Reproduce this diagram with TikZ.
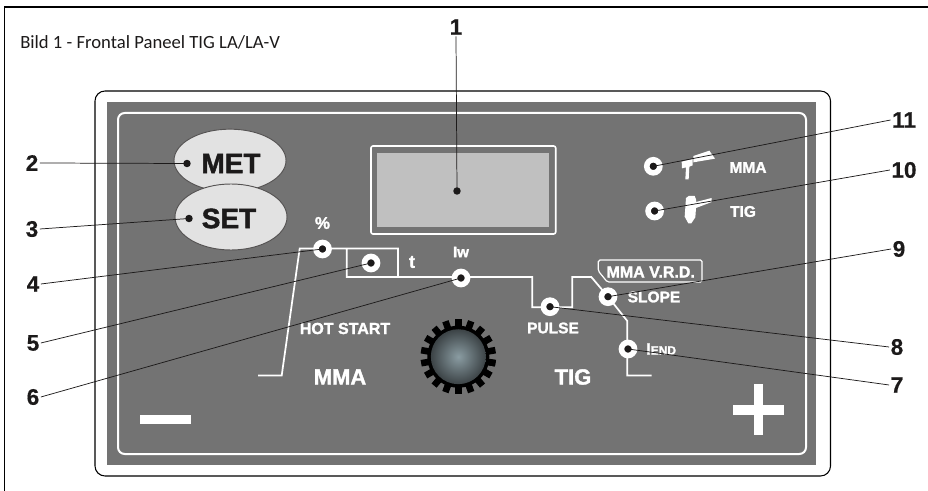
\documentclass[tikz,border=0pt]{standalone}
\usepackage{fontspec}
\setmainfont{Liberation Sans}
\newfontfamily\hv[UprightFont=* Bold,FakeBold=1.6]{Liberation Sans}
\newfontfamily\nm[UprightFont=* Bold,FakeBold=0.5]{Liberation Sans}
\newfontfamily\cb{Carlito}
\definecolor{panel}{HTML}{737373}
\definecolor{ink}{HTML}{1C1A1A}
\definecolor{lcd}{HTML}{C0C0C0}
\definecolor{btn}{HTML}{E2E2E2}
\definecolor{knobin}{HTML}{8A9CA2}
\definecolor{knobout}{HTML}{3C4346}
\newcommand{\hs}[1]{\hv\fontsize{\dimexpr#1pt*3/4\relax}{\dimexpr#1pt\relax}\selectfont}
\newcommand{\ns}[1]{\nm\fontsize{\dimexpr#1pt*3/4\relax}{\dimexpr#1pt\relax}\selectfont}
\tikzset{
  num/.style={font=\ns{22.5},text=ink,inner sep=1pt},
  wtxt/.style={text=white,inner sep=0pt},
  led/.style={circle,fill=ink,draw=white,line width=4.2pt,minimum size=9.8pt,inner sep=0pt,outer sep=0pt},
  spot/.style={circle,fill=ink,minimum size=5.6pt,inner sep=0pt,outer sep=0pt},
  leader/.style={draw=ink,line width=0.55pt},
  wline/.style={draw=white,line width=1.3pt,line join=miter},
  btnel/.style={ellipse,draw=ink!75,fill=btn,line width=0.7pt,inner sep=0pt}
}
\usetikzlibrary{shapes.geometric}
\begin{document}
\begin{tikzpicture}[x=0.75pt,y=-0.75pt]
\useasboundingbox (0,0) rectangle (928,491);
% frame
\draw[black,line width=1.2pt] (4.5,491) -- (4.5,7) -- (928,7);
\draw[black,line width=0.8pt,rounded corners=7.5pt] (95,91) rectangle (830.5,476);
\fill[panel] (107,102) rectangle (815.7,465);
\draw[white,line width=1.5pt,rounded corners=5pt] (118,113) rectangle (806,454);
% title
\node[anchor=west,inner sep=0pt,font=\cb\fontsize{14pt}{17pt}\selectfont,text=ink] (title) at (20,42) {Bild 1 - Frontal Paneel TIG LA/LA-V};
% display
\draw[white,line width=1.2pt,fill=panel,rounded corners=1.5pt] (371,146) rectangle (555.7,234);
\node[fill=lcd,inner sep=0pt,minimum width=128.6pt,minimum height=55.9pt] (lcdscreen) at (462.8,190.2) {};
% buttons
\node[btnel,minimum width=84pt,minimum height=47pt] (met) at (230,160.5) {};
\node[anchor=center,font=\hs{28},text=ink,inner sep=0pt] (mettxt) at (231,163.5) {MET};
\node[btnel,minimum width=84pt,minimum height=49.5pt] (set) at (231,217) {};
\node[anchor=center,font=\hs{28},text=ink,inner sep=0pt] (settxt) at (229,218.5) {SET};
% white circuit
\coordinate (p0) at (258,375.5);
\draw[wline] (p0) -- (281.7,375.5) -- (299.7,248.5) -- (346.7,248.5) -- (398,248.5) -- (398,277) -- (346.7,277) -- (346.7,248.5);
\draw[wline] (398,277) -- (532.3,277) -- (532.3,307.2) -- (572.3,307.2) -- (572.3,277) -- (591.3,277) -- (608,296.7) -- (627.3,321) -- (627.3,375.5) -- (651.7,375.5);
\draw[white,line width=0.9pt,rounded corners=1.2pt,fill=panel] (598.3,260) -- (702,260) -- (702,282) -- (607.3,282) -- (598.3,271) -- cycle;
% LEDs
\node[led] (l4) at (322.5,249) {};
\node[led] (l5) at (371,263) {};
\node[led] (l6) at (461,278) {};
\node[led] (l8) at (550,306.7) {};
\node[led] (l9) at (608,296.7) {};
\node[led] (l7) at (628,349) {};
\node[led] (l11) at (653.3,166.3) {};
\node[led] (l10) at (654.6,211) {};
% panel text
\node[wtxt,font=\hs{17}] (tpct) at (322.5,223) {\%};
\node[wtxt,font=\hs{18}] (tt) at (412,262) {t};
\node[wtxt,font=\hs{15}] (tiw) at (461,252) {Iw};
\node[wtxt,font=\hs{16}] (thot) at (345,328.5) {HOT START};
\node[wtxt,font=\hs{22}] (tmma) at (340,377) {MMA};
\node[wtxt,font=\hs{22}] (ttig) at (573,377) {TIG};
\node[wtxt,font=\hs{15.5}] (tpulse) at (553,328) {PULSE};
\node[wtxt,font=\hs{15.5}] (tslope) at (654,297) {SLOPE};
\node[wtxt,font=\hs{16}] (tvrd) at (650.7,272) {MMA V.R.D.};
\node[wtxt,anchor=west] (tend) at (646,349) {{\hs{16}I}{\hs{12}END}};
\node[wtxt,font=\hs{15.5}] (tm2) at (748,167.5) {MMA};
\node[wtxt,font=\hs{15.5}] (tt2) at (743,211.5) {TIG};
% minus plus
\fill[white] (139.7,415) rectangle (190.7,424.3);
\fill[white] (733.3,405) rectangle (784.3,415);
\fill[white] (754,384.3) rectangle (763.3,435.3);
% torches
\begin{scope}[shift={(620,110)},x=0.25pt,y=-0.25pt]
\fill[white] (220,138) -- (268,122) -- (285,146) -- (220,157) -- cycle;
\fill[white] (185,155) -- (218,147) -- (218,166) -- (208,170) -- (206,208) -- (196,208) -- (198,172) -- (186,175) -- cycle;
\fill[white] (198,264) -- (206,258) -- (224,258) -- (228,268) -- (228,276) -- (275,264) -- (275,276) -- (228,294) -- (226,322) -- (214,340) -- (205,340) -- (194,320) -- cycle;
\end{scope}
% knob
\node[circle,fill=black,minimum size=46.5pt,inner sep=0pt] (knob) at (458.3,356.7) {};
\foreach \a in {10,30,...,370}
  \fill[black] ([shift={(\a:29)}]knob.center) ++(\a+90:3.3) -- ++(\a:8.7) -- ++(\a-90:6.6) -- ++(\a+180:8.7) -- cycle;
\shade[inner color=knobin,outer color=knobout] (knob.center) circle[radius=20.6pt];
% numbers
\node[num] (n1) at (456,27) {1};
\node[num] (n2) at (32,163) {2};
\node[num] (n3) at (32,229) {3};
\node[num] (n4) at (33,284) {4};
\node[num] (n5) at (33,343) {5};
\node[num] (n6) at (33,397) {6};
\node[num] (n7) at (897,385) {7};
\node[num] (n8) at (897,347) {8};
\node[num] (n9) at (899,249) {9};
\node[num] (n10) at (904,170) {10};
\node[num] (n11) at (904,120) {11};
% dots on buttons and display
\node[spot] (d1) at (457,191) {};
\node[spot] (d2) at (187,163.5) {};
\node[spot] (d3) at (189,218.5) {};
% leaders
\draw[leader] (n1.south) -- (d1.center);
\draw[leader] (n2.east) -- (d2.center);
\draw[leader] (n3.east) -- (d3.center);
\draw[leader] (n4.east) -- (l4.center);
\draw[leader] (n5.east) -- (l5.center);
\draw[leader] (n6.east) -- (l6.center);
\draw[leader] (n7.west) -- (l7.center);
\draw[leader] (n8.west) -- (l8.center);
\draw[leader] (n9.west) -- (l9.center);
\draw[leader] (n10.west) -- (l10.center);
\draw[leader] (n11.west) -- (l11.center);
\end{tikzpicture}
\end{document}
